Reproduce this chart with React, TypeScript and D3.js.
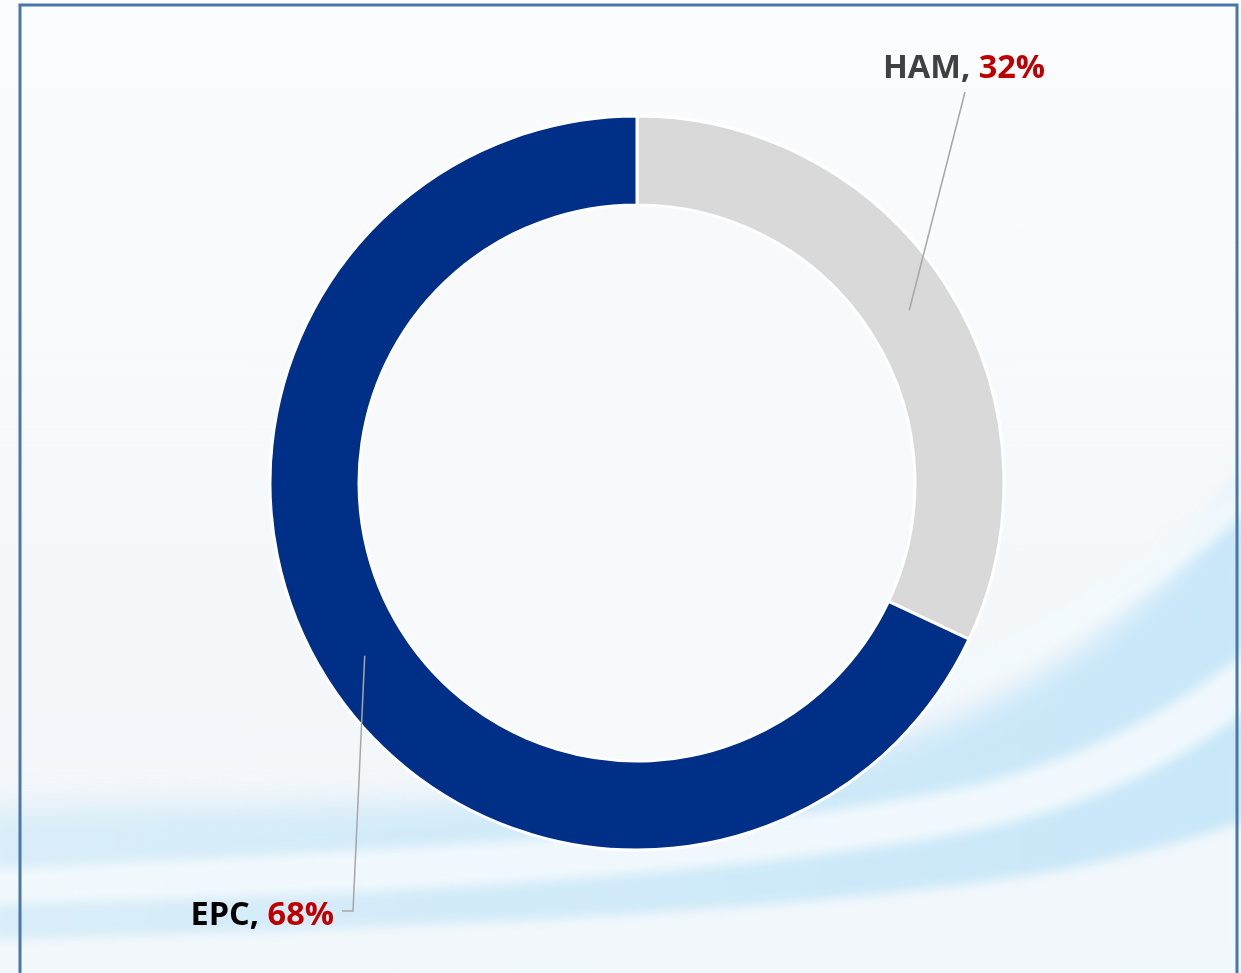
import React from "react";
import * as d3 from "d3";

const categories = ["HAM", "EPC"];
const values = [32, 68];
const sliceColors = ["#d9d9d9", "#002f87"];
const nameColors = ["#404040", "#000000"];
const pctColor = "#c00000";

const W = 1241;
const H = 973;

export default function App() {
  const cx = 637;
  const cy = 483;
  const outerR = 367;
  const innerR = 278;

  const pie = d3
    .pie<number>()
    .sort(null)
    .value((d) => d)
    .startAngle(0)
    .endAngle(2 * Math.PI);
  const arcs = pie(values);
  const arc = d3.arc<d3.PieArcDatum<number>>().innerRadius(innerR).outerRadius(outerR);

  const total = d3.sum(values);
  const labelPos = [
    { x: 883, y: 78, anchor: "start", elbow: [965, 92] },
    { x: 334, y: 925, anchor: "end", elbow: [353, 911], tail: [342, 911] },
  ];

  return (
    <svg
      width={W}
      height={H}
      style={{ position: "absolute", left: 0, top: 0, display: "block" }}
    >
      <defs>
        <linearGradient id="bg" x1="0" y1="0" x2="0" y2="1">
          <stop offset="0" stopColor="#fbfcfd" />
          <stop offset="0.6" stopColor="#f5f8fb" />
          <stop offset="1" stopColor="#f0f5f9" />
        </linearGradient>
        <linearGradient id="blueFade" x1="0" y1="0" x2="1" y2="0">
          <stop offset="0" stopColor="#d9edf8" />
          <stop offset="0.5" stopColor="#d0eaf9" />
          <stop offset="1" stopColor="#c8e7f9" />
        </linearGradient>
        <filter id="blur" x="-10%" y="-10%" width="120%" height="120%">
          <feGaussianBlur stdDeviation="14" />
        </filter>
        <filter id="blur2" x="-10%" y="-10%" width="120%" height="120%">
          <feGaussianBlur stdDeviation="6" />
        </filter>
      </defs>
      <rect x={0} y={0} width={W} height={H} fill="url(#bg)" />
      <g filter="url(#blur)">
        <path
          d="M -20 810 C 300 800, 650 820, 900 740 C 1050 690, 1180 590, 1260 460 L 1260 980 L -20 980 Z"
          fill="url(#blueFade)"
        />
      </g>
      <g filter="url(#blur2)">
        <path
          d="M 860 700 C 1000 650, 1150 560, 1260 470 L 1260 500 C 1150 600, 1000 690, 860 730 Z"
          fill="#f2f9fd"
          opacity={0.85}
        />
        <path
          d="M -20 870 C 350 850, 700 840, 950 790 C 1100 760, 1200 690, 1260 640 L 1260 700 C 1200 750, 1100 810, 950 835 C 700 880, 350 895, -20 905 Z"
          fill="#f4fafd"
          opacity={0.9}
        />
        <path
          d="M -20 940 C 350 930, 800 915, 1060 870 C 1160 850, 1220 830, 1260 815 L 1260 980 L -20 980 Z"
          fill="#f5f9fc"
          opacity={0.92}
        />
      </g>
      <rect
        x={20}
        y={5}
        width={1217}
        height={H + 10}
        fill="none"
        stroke="#4a76a8"
        strokeWidth={3}
      />
      <circle cx={cx} cy={cy} r={innerR} fill="#f7f9fb" />
      <g transform={`translate(${cx},${cy})`}>
        {arcs.map((a, i) => (
          <path
            key={categories[i]}
            d={arc(a) || ""}
            fill={sliceColors[i]}
            stroke="#ffffff"
            strokeWidth={3}
          />
        ))}
      </g>
      {arcs.map((a, i) => {
        const [mx, my] = arc.centroid(a);
        const p = labelPos[i];
        const pts = [[cx + mx, cy + my], p.elbow];
        if (p.tail) pts.push(p.tail);
        const pct = Math.round((values[i] / total) * 100);
        return (
          <g key={"lab" + i}>
            <polyline
              points={pts.map((q) => q.join(",")).join(" ")}
              fill="none"
              stroke="#a6a6a6"
              strokeWidth={1.5}
            />
            <text
              x={p.x}
              y={p.y}
              textAnchor={p.anchor as any}
              fontFamily="'Open Sans', sans-serif"
              fontWeight={700}
              fontSize={32.5}
            >
              <tspan fill={nameColors[i]}>{categories[i]}, </tspan>
              <tspan fill={pctColor}>{pct}%</tspan>
            </text>
          </g>
        );
      })}
    </svg>
  );
}
